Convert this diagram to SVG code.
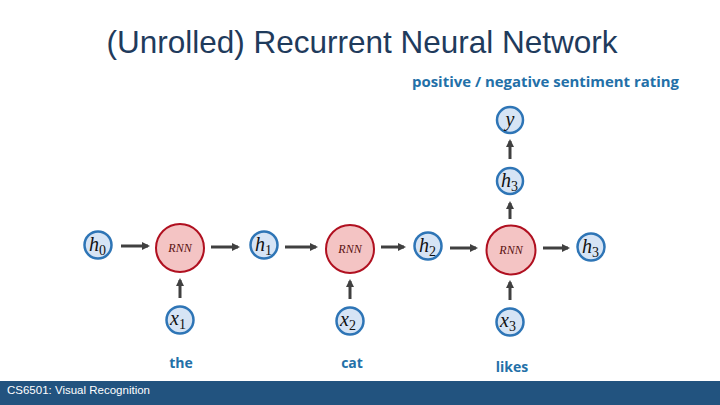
<svg xmlns="http://www.w3.org/2000/svg" width="720" height="405" viewBox="0 0 720 405">
<defs>
<marker id="ah" markerWidth="8" markerHeight="8" refX="6" refY="4" orient="auto" markerUnits="userSpaceOnUse">
<path d="M0,0 L8,4 L0,8 z" fill="#404040"/>
</marker>
<style>
.v{fill:#D6E4F5;stroke:#2E75B6;stroke-width:2.5}
.r{fill:#F4C4C4;stroke:#B01020;stroke-width:2}
.m{font-family:"Liberation Serif",serif;font-style:italic;font-size:20px;fill:#111}
.s{font-style:normal;font-size:14px}
.rt{font-family:"Liberation Serif",serif;font-style:italic;font-size:12px;fill:#5a1010}
.w{font-family:"Open Sans","Liberation Sans",sans-serif;font-weight:bold;font-size:14px;fill:#2370A8}
.c{stroke:#404040;stroke-width:3;fill:none;marker-end:url(#ah)}
</style>
</defs>
<rect width="720" height="405" fill="#fff"/>
<text x="362" y="53" text-anchor="middle" font-family="Liberation Sans,sans-serif" font-size="31.5" fill="#1F3B5C">(Unrolled) Recurrent Neural Network</text>
<text x="412" y="87" class="w" textLength="267" lengthAdjust="spacingAndGlyphs">positive / negative sentiment rating</text>
<g id="connectors">
<line class="c" x1="121" y1="246" x2="148" y2="246"/>
<line class="c" x1="211" y1="247" x2="238" y2="247"/>
<line class="c" x1="285" y1="247" x2="316" y2="247"/>
<line class="c" x1="381" y1="247" x2="404" y2="247"/>
<line class="c" x1="450" y1="248" x2="476" y2="248"/>
<line class="c" x1="543" y1="248" x2="568" y2="248"/>
<line class="c" x1="180" y1="298" x2="180" y2="280"/>
<line class="c" x1="350" y1="299" x2="350" y2="281"/>
<line class="c" x1="510" y1="300" x2="510" y2="282"/>
<line class="c" x1="510" y1="219" x2="510" y2="203"/>
<line class="c" x1="510" y1="159" x2="510" y2="141"/>
</g>
<g id="h0"><circle class="v" cx="98" cy="245" r="13.5"/><text class="m" x="89" y="251">h<tspan class="s" dy="4">0</tspan></text></g>
<g id="rnn1"><circle class="r" cx="180" cy="248" r="24"/><text class="rt" x="180" y="252" text-anchor="middle">RNN</text></g>
<g id="h1"><circle class="v" cx="264" cy="245" r="13.5"/><text class="m" x="255" y="251">h<tspan class="s" dy="4">1</tspan></text></g>
<g id="rnn2"><circle class="r" cx="350" cy="249" r="24"/><text class="rt" x="350" y="253" text-anchor="middle">RNN</text></g>
<g id="h2"><circle class="v" cx="428" cy="246" r="13.5"/><text class="m" x="419" y="252">h<tspan class="s" dy="4">2</tspan></text></g>
<g id="rnn3"><circle class="r" cx="511" cy="250" r="24.5"/><text class="rt" x="511" y="254" text-anchor="middle">RNN</text></g>
<g id="h3r"><circle class="v" cx="591" cy="247" r="13.5"/><text class="m" x="582" y="253">h<tspan class="s" dy="4">3</tspan></text></g>
<g id="h3t"><circle class="v" cx="510" cy="181" r="13"/><text class="m" x="501" y="187">h<tspan class="s" dy="4">3</tspan></text></g>
<g id="y"><circle class="v" cx="510" cy="120" r="13"/><text class="m" x="510" y="126" text-anchor="middle">y</text></g>
<g id="x1"><circle class="v" cx="180" cy="320" r="13.5"/><text class="m" x="170" y="325">x<tspan class="s" dy="4">1</tspan></text></g>
<g id="x2"><circle class="v" cx="350" cy="321" r="13.5"/><text class="m" x="340" y="326">x<tspan class="s" dy="4">2</tspan></text></g>
<g id="x3"><circle class="v" cx="510" cy="322" r="13.5"/><text class="m" x="500" y="327">x<tspan class="s" dy="4">3</tspan></text></g>
<text class="w" x="181" y="368" text-anchor="middle">the</text>
<text class="w" x="352" y="368" text-anchor="middle">cat</text>
<text class="w" x="512" y="372" text-anchor="middle">likes</text>
<rect x="0" y="381" width="720" height="24" fill="#22537F"/>
<text x="7" y="394" font-family="Liberation Sans,sans-serif" font-size="11.5" fill="#fff">CS6501: Visual Recognition</text>
</svg>
